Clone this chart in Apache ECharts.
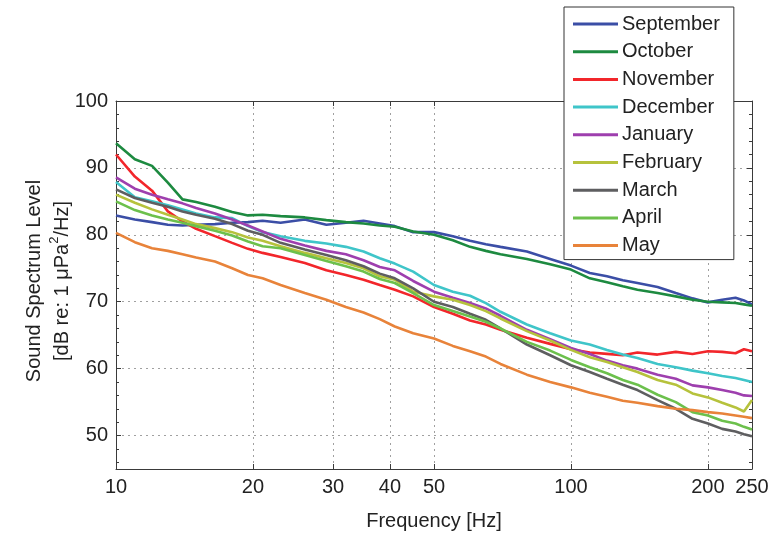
<!DOCTYPE html>
<html>
<head>
<meta charset="utf-8">
<script src="https://cdn.jsdelivr.net/npm/echarts@6/dist/echarts.min.js"></script>
<style>
  html, body { margin: 0; padding: 0; background: #fff; }
  #chart { width: 773px; height: 536px; }
</style>
</head>
<body>
<div id="chart"></div>
<script>
// Monthly sound spectrum levels (dB re 1 µPa²/Hz) against frequency (Hz)
const freqs = [10, 11, 12, 13, 14, 15, 16.5, 18, 19.5, 21, 23, 26, 29, 32, 35, 38, 41, 45, 50, 55,
  60, 65, 70, 80, 90, 100, 110, 120, 130, 140, 155, 170, 185, 200, 215, 230, 240, 250];

const september = [82.9, 82.3, 81.9, 81.5, 81.4, 81.5, 81.6, 81.8, 81.9, 82.1, 81.8, 82.3, 81.5, 81.8, 82.1, 81.7, 81.3, 80.4, 80.4, 79.8,
  79.1, 78.6, 78.2, 77.5, 76.4, 75.4, 74.3, 73.8, 73.2, 72.8, 72.2, 71.3, 70.5, 69.9, 70.3, 70.6, 70.2, 69.6];
const october = [93.7, 91.3, 90.3, 87.8, 85.3, 84.9, 84.2, 83.4, 82.9, 83.0, 82.8, 82.6, 82.2, 81.9, 81.7, 81.4, 81.2, 80.5, 80.0, 79.2,
  78.2, 77.6, 77.1, 76.4, 75.6, 74.8, 73.5, 72.9, 72.3, 71.8, 71.3, 70.8, 70.3, 70.0, 69.9, 69.8, 69.6, 69.4];
const november = [92.0, 88.7, 86.6, 83.5, 82.0, 80.9, 79.8, 78.8, 77.9, 77.3, 76.7, 75.8, 74.7, 74.0, 73.3, 72.5, 71.8, 70.8, 69.2, 68.2,
  67.2, 66.6, 65.8, 64.6, 63.7, 62.9, 62.4, 62.2, 62.0, 62.4, 62.1, 62.5, 62.2, 62.6, 62.5, 62.3, 62.9, 62.6];
const december = [87.9, 85.6, 85.0, 84.4, 83.8, 83.2, 82.6, 82.5, 81.3, 80.4, 79.8, 79.1, 78.7, 78.2, 77.5, 76.5, 75.7, 74.5, 72.5, 71.5,
  70.9, 69.8, 68.5, 66.6, 65.3, 64.2, 63.6, 62.8, 62.1, 61.6, 60.7, 60.2, 59.7, 59.3, 58.9, 58.6, 58.3, 58.0];
const january = [88.6, 86.9, 86.0, 85.3, 84.7, 84.0, 83.2, 82.3, 81.4, 80.5, 79.4, 78.4, 77.6, 77.1, 76.2, 75.2, 74.7, 73.1, 71.5, 70.6,
  69.8, 69.0, 67.9, 65.8, 64.4, 63.1, 62.2, 61.2, 60.5, 60.0, 59.1, 58.5, 57.5, 57.2, 56.8, 56.4, 56.0, 55.9];
const february = [86.0, 84.8, 83.8, 83.0, 82.3, 81.6, 81.0, 80.4, 79.6, 79.1, 78.3, 77.3, 76.5, 75.8, 75.0, 73.8, 73.3, 71.5, 70.8, 70.3,
  69.5, 68.6, 67.5, 65.6, 64.2, 62.8, 61.7, 61.0, 60.2, 59.5, 58.3, 57.6, 56.3, 55.7, 54.9, 54.2, 53.6, 55.3];
const march = [86.8, 85.5, 84.8, 84.2, 83.5, 83.0, 82.4, 81.6, 80.6, 80.0, 78.8, 77.8, 77.0, 76.2, 75.3, 74.2, 73.5, 72.0, 70.0, 69.2,
  68.2, 67.3, 66.0, 63.6, 62.0, 60.5, 59.5, 58.5, 57.6, 56.8, 55.3, 54.0, 52.5, 51.8, 51.0, 50.6, 50.2, 49.9];
const april = [85.0, 83.7, 82.9, 82.3, 81.8, 81.3, 80.6, 79.9, 79.0, 78.3, 78.0, 77.0, 76.1, 75.3, 74.5, 73.4, 72.8, 71.3, 69.5, 68.6,
  67.8, 67.0, 66.0, 64.0, 62.7, 61.3, 60.2, 59.3, 58.3, 57.6, 56.1, 55.0, 53.5, 53.0, 52.2, 51.8, 51.3, 50.9];
const may = [80.3, 78.9, 78.0, 77.6, 77.1, 76.6, 76.0, 75.0, 74.0, 73.5, 72.5, 71.3, 70.3, 69.2, 68.4, 67.4, 66.3, 65.3, 64.5, 63.4,
  62.6, 61.8, 60.7, 59.1, 58.0, 57.2, 56.4, 55.8, 55.2, 54.9, 54.4, 54.0, 53.8, 53.5, 53.3, 53.0, 52.8, 52.6];

const monthNames = ['September', 'October', 'November', 'December', 'January', 'February', 'March', 'April', 'May'];
const monthValues = [september, october, november, december, january, february, march, april, may];
const monthColors = ['#3b4ea6', '#1d8a40', '#f2262b', '#3fc5c9', '#9e3fae', '#b6c23c', '#5e5e60', '#6cc04c', '#e8833a'];

const freqTicks = [10, 20, 30, 40, 50, 100, 200, 250];

const textColor = '#222';
const axisColor = '#3a3a3a';
const gridStyle = { color: '#a0a0a0', width: 1, type: [2, 4] };
const fontFamily = '"Liberation Sans", Arial, Helvetica, sans-serif';

const chart = echarts.init(document.getElementById('chart'), null, { renderer: 'canvas' });

const series = monthNames.map((name, k) => ({
  name: name,
  type: 'line',
  xAxisIndex: 0,
  yAxisIndex: 0,
  symbol: 'none',
  smooth: false,
  lineStyle: { width: 2.6, color: monthColors[k] },
  itemStyle: { color: monthColors[k] },
  data: freqs.map((f, i) => [f, monthValues[k][i]])
}));

chart.setOption({
  animation: false,
  backgroundColor: '#fff',
  textStyle: { fontFamily: fontFamily, color: textColor },
  grid: { left: 116, right: 21, top: 101, bottom: 51, containLabel: false },
  legend: {
    orient: 'vertical',
    left: 564,
    top: 7,
    padding: [7, 14, 4, 9],
    itemGap: 7.7,
    itemWidth: 45,
    itemHeight: 3,
    icon: 'rect',
    backgroundColor: '#fff',
    borderColor: '#333',
    borderWidth: 1,
    borderRadius: 0,
    textStyle: { fontFamily: fontFamily, fontSize: 20, color: textColor, padding: [0, 0, 0, -1] },
    data: monthNames
  },
  xAxis: [
    {
      type: 'log',
      logBase: 10,
      min: 10,
      max: 250,
      name: 'Frequency [Hz]',
      nameLocation: 'middle',
      nameGap: 42,
      nameTextStyle: { fontSize: 20, color: textColor, fontFamily: fontFamily },
      axisLine: { show: true, lineStyle: { color: axisColor, width: 1 } },
      axisTick: { show: true, inside: true, length: 5, customValues: freqTicks, lineStyle: { color: axisColor } },
      axisLabel: { show: true, customValues: freqTicks, fontSize: 20, color: textColor, margin: 8, fontFamily: fontFamily },
      splitLine: { show: true, lineStyle: gridStyle },
      minorTick: { show: false },
      minorSplitLine: { show: false }
    },
    {
      type: 'log',
      logBase: 10,
      min: 10,
      max: 250,
      position: 'top',
      axisLine: { show: true, lineStyle: { color: axisColor, width: 1 } },
      axisTick: { show: true, inside: true, length: 5, customValues: freqTicks, lineStyle: { color: axisColor } },
      axisLabel: { show: false },
      splitLine: { show: false }
    }
  ],
  yAxis: [
    {
      type: 'value',
      min: 45,
      max: 100,
      splitNumber: 5,
      name: 'Sound Spectrum Level\n{t|[dB re: 1 μPa}{sup|2}{t|/Hz]}',
      nameLocation: 'middle',
      nameRotate: 90,
      nameGap: 40,
      nameMoveOverlap: false,
      nameTextStyle: {
        fontSize: 20,
        color: textColor,
        fontFamily: fontFamily,
        lineHeight: 28,
        padding: [0, 0, 0, 8],
        rich: {
          t: { fontSize: 20, color: textColor, fontFamily: fontFamily, lineHeight: 28 },
          sup: { fontSize: 13, color: textColor, fontFamily: fontFamily, verticalAlign: 'top', lineHeight: 28, padding: [0, 0, 8, 0] }
        }
      },
      axisLine: { show: true, lineStyle: { color: axisColor, width: 1 } },
      axisTick: { show: true, inside: true, length: 5, lineStyle: { color: axisColor } },
      minorTick: { show: true, splitNumber: 5, length: 3, lineStyle: { color: axisColor } },
      axisLabel: { show: true, fontSize: 20, color: textColor, margin: 8, showMinLabel: false, fontFamily: fontFamily },
      splitLine: { show: true, lineStyle: gridStyle }
    },
    {
      type: 'value',
      min: 45,
      max: 100,
      splitNumber: 5,
      position: 'right',
      axisLine: { show: true, lineStyle: { color: axisColor, width: 1 } },
      axisTick: { show: true, inside: true, length: 5, lineStyle: { color: axisColor } },
      minorTick: { show: true, splitNumber: 5, length: 3, lineStyle: { color: axisColor } },
      axisLabel: { show: false },
      splitLine: { show: false }
    }
  ],
  series: series
});
</script>
</body>
</html>
